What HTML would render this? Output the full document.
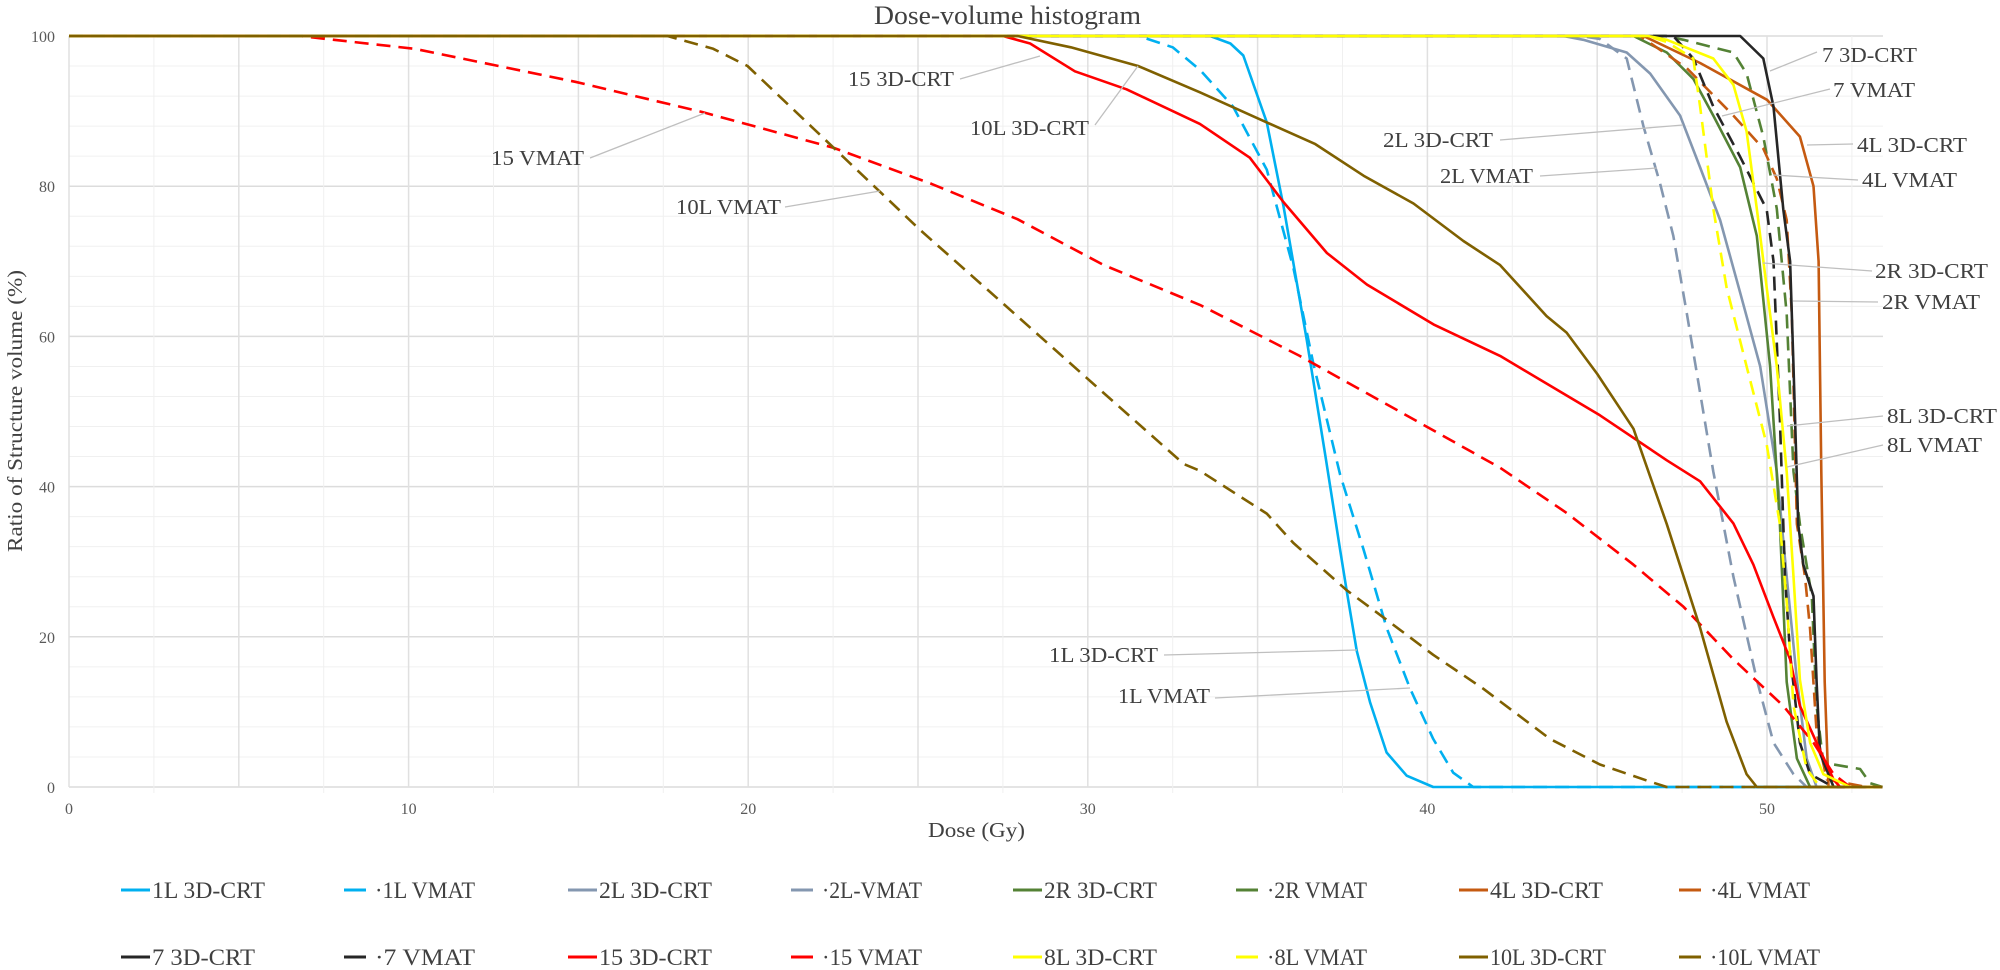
<!DOCTYPE html>
<html><head><meta charset="utf-8"><style>
html,body{margin:0;padding:0;background:#fff;}
svg{display:block;font-family:"Liberation Serif","DejaVu Serif",serif;}
</style></head><body>
<svg id="c" width="2000" height="970" viewBox="0 0 2000 970" xmlns="http://www.w3.org/2000/svg">
<rect width="2000" height="970" fill="#fff"/>
<g id="grid"></g>
<g id="series" fill="none" stroke-linejoin="round" stroke-linecap="butt"></g>
<g id="leaders" stroke="#bfbfbf" stroke-width="1.3" fill="none">
<line x1="960" y1="79" x2="1040" y2="56"/>
<line x1="1095" y1="125" x2="1138" y2="66"/>
<line x1="590" y1="158" x2="705" y2="113"/>
<line x1="785" y1="207" x2="880" y2="191"/>
<line x1="1164" y1="655" x2="1357" y2="650"/>
<line x1="1215" y1="698" x2="1410" y2="688"/>
<line x1="1500" y1="140" x2="1683" y2="125"/>
<line x1="1540" y1="176" x2="1657" y2="168"/>
<line x1="1817" y1="52" x2="1770" y2="71"/>
<line x1="1830" y1="89" x2="1722" y2="116"/>
<line x1="1853" y1="144" x2="1807" y2="145"/>
<line x1="1858" y1="180" x2="1773" y2="175"/>
<line x1="1872" y1="271" x2="1763" y2="263"/>
<line x1="1878" y1="302" x2="1793" y2="301"/>
<line x1="1883" y1="416" x2="1787" y2="426"/>
<line x1="1883" y1="445" x2="1787" y2="467"/>
</g>
<g fill="#404040" font-size="21">
<text x="848" y="86" textLength="106" lengthAdjust="spacingAndGlyphs">15 3D-CRT</text>
<text x="970" y="135" textLength="119" lengthAdjust="spacingAndGlyphs">10L 3D-CRT</text>
<text x="491" y="165" textLength="93" lengthAdjust="spacingAndGlyphs">15 VMAT</text>
<text x="676" y="214" textLength="105" lengthAdjust="spacingAndGlyphs">10L VMAT</text>
<text x="1049" y="662" textLength="109" lengthAdjust="spacingAndGlyphs">1L 3D-CRT</text>
<text x="1118" y="703" textLength="92" lengthAdjust="spacingAndGlyphs">1L VMAT</text>
<text x="1383" y="147" textLength="110" lengthAdjust="spacingAndGlyphs">2L 3D-CRT</text>
<text x="1440" y="183" textLength="93" lengthAdjust="spacingAndGlyphs">2L VMAT</text>
<text x="1822" y="62" textLength="95" lengthAdjust="spacingAndGlyphs">7 3D-CRT</text>
<text x="1833" y="97" textLength="82" lengthAdjust="spacingAndGlyphs">7 VMAT</text>
<text x="1857" y="152" textLength="110" lengthAdjust="spacingAndGlyphs">4L 3D-CRT</text>
<text x="1862" y="187" textLength="95" lengthAdjust="spacingAndGlyphs">4L VMAT</text>
<text x="1875" y="278" textLength="113" lengthAdjust="spacingAndGlyphs">2R 3D-CRT</text>
<text x="1882" y="309" textLength="98" lengthAdjust="spacingAndGlyphs">2R VMAT</text>
<text x="1887" y="423" textLength="110" lengthAdjust="spacingAndGlyphs">8L 3D-CRT</text>
<text x="1887" y="452" textLength="95" lengthAdjust="spacingAndGlyphs">8L VMAT</text>
</g>
<text x="874" y="24" font-size="26" fill="#404040" textLength="267" lengthAdjust="spacingAndGlyphs">Dose-volume histogram</text>
<text x="928" y="837" font-size="21" fill="#404040" textLength="97" lengthAdjust="spacingAndGlyphs">Dose (Gy)</text>
<text transform="translate(22,411) rotate(-90)" text-anchor="middle" font-size="21" fill="#404040" textLength="282" lengthAdjust="spacingAndGlyphs">Ratio of Structure volume (%)</text>
<g id="ticks" fill="#595959" font-size="16"></g>
<g id="legend" font-size="23" fill="#404040"></g>
</svg>
<script>
var X=function(d){return 69+33.96*d;}, Y=function(p){return 787-7.51*p;};
var ns="http://www.w3.org/2000/svg";
function el(parent,tag,attrs,txt){var e=document.createElementNS(ns,tag);for(var k in attrs)e.setAttribute(k,attrs[k]);if(txt!==undefined)e.textContent=txt;parent.appendChild(e);return e;}
var g=document.getElementById('grid');
for(var p=0;p<=100;p+=4){var maj=p%20==0;el(g,'line',{x1:69,x2:1883,y1:Y(p),y2:Y(p),stroke:maj?'#dcdcdc':'#f0f0f0','stroke-width':maj?1.5:1});}
for(var d=0;d<=52.5;d+=2.5){var maj=d%5==0;el(g,'line',{x1:X(d),x2:X(d),y1:Y(100),y2:Y(0)+(maj?0:6),stroke:maj?'#e0e0e0':'#f0f0f0','stroke-width':maj?1.5:1});}
var t=document.getElementById('ticks');
for(var p=0;p<=100;p+=20){el(t,'text',{x:55,y:Y(p)+6,'text-anchor':'end'},String(p));}
for(var d=0;d<=50;d+=10){el(t,'text',{x:X(d),y:814,'text-anchor':'middle'},String(d));}
var C={c:'#00b0f0',b:'#8497b0',g:'#548235',o:'#c55a11',k:'#262626',r:'#ff0000',y:'#ffff00',l:'#7f6000'};
var S=[
['1L 3D-CRT',C.c,0,[[0,100],[33.6,100],[34.2,99],[34.58,97.4],[35.27,88.5],[35.76,77.4],[36.45,59.5],[37.0,44],[37.43,31.6],[37.62,26.2],[37.92,18.1],[38.31,11.3],[38.8,4.6],[39.39,1.5],[40.17,0],[53.4,0]]],
['·1L VMAT',C.c,1,[[0,100],[31.5,100],[32.5,98.5],[33.3,95.5],[34.28,90.6],[35.27,82.2],[36.06,69],[36.64,56.4],[37.43,41.6],[38.12,31.6],[38.8,21.2],[39.49,13.1],[40.17,6.4],[40.76,1.9],[41.35,0],[53.4,0]]],
['2L 3D-CRT',C.b,0,[[0,100],[44.0,100],[44.59,99.5],[45.87,97.8],[46.56,95],[47.44,89.4],[48.03,82.5],[48.62,75.5],[49.21,65.8],[49.8,56],[50.29,42],[50.58,28],[50.88,14.3],[51.17,3.8],[51.46,0],[53.4,0]]],
['·2L-VMAT',C.b,1,[[0,100],[44.5,100],[45.08,99.6],[45.87,97],[46.36,88],[46.85,80.4],[47.24,73.4],[47.64,63],[48.03,52.5],[48.42,42],[49.01,28],[49.7,14.3],[50.19,5.9],[50.78,1.7],[51.17,0],[53.4,0]]],
['2R 3D-CRT',C.g,0,[[0,100],[46.07,100],[47.05,97.8],[47.83,94.3],[48.42,89.4],[49.21,82.5],[49.7,73.4],[50.09,56],[50.38,35],[50.58,14],[50.88,3.8],[51.27,0],[53.4,0]]],
['·2R VMAT',C.g,1,[[0,100],[47.0,100],[47.54,99.5],[49.01,97.8],[49.4,95],[49.89,86.6],[50.29,77],[50.58,63],[50.78,42],[50.97,35],[51.32,25.4],[51.46,10.8],[51.66,3.1],[51.96,3.0],[52.74,2.4],[53.04,0.5],[53.4,0]]],
['4L 3D-CRT',C.o,0,[[0,100],[46.36,100],[48.03,96.4],[50.0,91.5],[50.97,86.6],[51.37,80],[51.52,70],[51.6,42],[51.7,14],[51.81,0],[53.4,0]]],
['·4L VMAT',C.o,1,[[0,100],[46.26,100],[47.64,95.7],[49.01,89.4],[49.89,85],[50.29,81],[50.58,75.5],[50.73,63],[50.88,35],[51.12,28],[51.27,21],[51.46,7.3],[51.76,1],[52.94,0],[53.4,0]]],
['7 3D-CRT',C.k,0,[[0,100],[49.21,100],[49.89,97],[50.19,90.6],[50.48,76.9],[50.68,70],[50.78,56],[50.92,35],[51.07,29.6],[51.37,25.4],[51.46,14],[51.56,4.5],[51.96,0],[53.4,0]]],
['·7 VMAT',C.k,1,[[0,100],[47.24,100],[47.83,97],[48.42,90.6],[49.21,83.9],[49.99,76.9],[50.19,70],[50.38,49],[50.53,28],[50.68,17.7],[50.97,5.9],[51.27,1.7],[51.96,0],[53.4,0]]],
['15 3D-CRT',C.r,0,[[0,100],[27.5,100],[28.3,99],[29.62,95.3],[31.14,92.9],[33.3,88.3],[34.77,83.8],[35.76,77.9],[37.04,71.1],[38.22,66.9],[40.18,61.6],[42.14,57.4],[45.08,49.5],[47.05,43.5],[48.03,40.7],[49.01,35.1],[49.6,29.6],[50.19,22.6],[50.68,17],[50.97,10.8],[51.46,5.9],[51.96,1],[52.15,0],[53.4,0]]],
['·15 VMAT',C.r,1,[[0,100],[6.8,100],[10.18,98.3],[14.91,93.9],[18.63,89.9],[22.52,85.1],[25.4,80.3],[27.93,75.6],[30.47,69.5],[33.3,64.2],[36.24,57.4],[39.18,50],[42.14,42.5],[44.1,36.5],[46.07,29.6],[47.54,24],[49.01,17],[50.48,10.8],[51.37,5.9],[51.96,1.7],[52.45,0],[53.4,0]]],
['8L 3D-CRT',C.y,0,[[0,100],[46.5,100],[47.05,99.5],[48.42,97],[49.01,93.5],[49.4,87.3],[49.7,77],[49.99,66.5],[50.29,56],[50.58,42],[50.78,28],[50.97,14.3],[51.27,5.9],[51.66,1.7],[52.45,0],[53.4,0]]],
['·8L VMAT',C.y,1,[[0,100],[46.5,100],[47.05,99.2],[47.83,97],[48.03,90.6],[48.42,77],[48.81,66.5],[49.4,56],[49.99,45.6],[50.38,35],[50.58,24.7],[50.78,10.8],[51.17,2.4],[51.56,0],[53.4,0]]],
['10L 3D-CRT',C.l,0,[[0,100],[27.93,100],[29.5,98.5],[31.48,96],[33.3,92.5],[35.27,88.5],[36.7,85.6],[38.12,81.4],[39.59,77.7],[41.06,72.7],[42.14,69.5],[43.51,62.7],[44.1,60.5],[45.0,55],[46.07,47.7],[47.05,35],[48.03,21.2],[48.81,8.7],[49.4,1.7],[49.7,0],[53.4,0]]],
['·10L VMAT',C.l,1,[[0,100],[17.62,100],[18.97,98.3],[19.98,96],[22.52,85.1],[25.06,74.2],[27.6,64],[29.96,54.5],[32.83,43],[33.3,42.1],[35.27,36.4],[36.05,32.5],[37.62,26.2],[38.7,22.6],[40.17,17.6],[41.64,13.1],[43.61,6.4],[45.08,3],[46.56,0.7],[47.05,0],[53.4,0]]]
];
var sg=document.getElementById('series');
S.forEach(function(s){
  var d=s[3].map(function(q,i){return (i?'L':'M')+X(q[0]).toFixed(1)+' '+Y(q[1]).toFixed(1);}).join('');
  var a={d:d,stroke:s[1],'stroke-width':2.6};
  if(s[2])a['stroke-dasharray']='14 8';
  el(sg,'path',a);
});
var lg=document.getElementById('legend');
var xs=[121,344,568,791,1013,1236,1459,1679];
S.forEach(function(s,i){
  var row=Math.floor(i/8), col=i%8;
  var ord=[0,1,2,3,4,5,6,7,8,9,10,11,12,13,14,15];
  var x=xs[col], y=row?957:890;
  if(s[2]){
    el(lg,'line',{x1:x,x2:x+22,y1:y,y2:y,stroke:s[1],'stroke-width':3});
  } else {
    el(lg,'line',{x1:x,x2:x+29,y1:y,y2:y,stroke:s[1],'stroke-width':3});
  }
  var w=s[0].length>9?113:(s[0].length>8?110:100);
  el(lg,'text',{x:x+31,y:y+8,textLength:(s[0].charAt(0)=='·'?w:w+3),lengthAdjust:'spacingAndGlyphs'},s[0]);
});
</script>
</body></html>
